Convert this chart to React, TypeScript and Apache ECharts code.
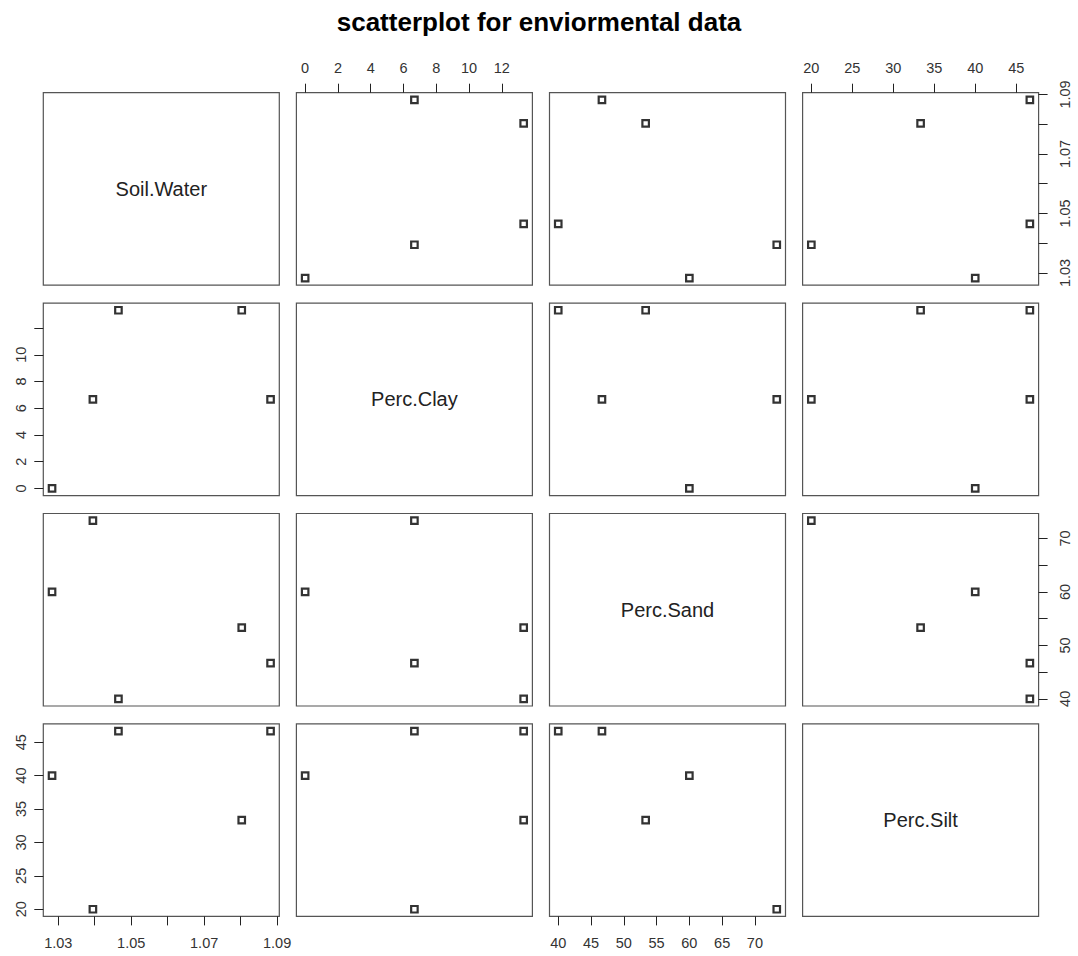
import React, { useEffect, useRef } from "react";
import * as echarts from "echarts";

// Variables of the pairs plot, in panel order
const variables = ["Soil.Water", "Perc.Clay", "Perc.Sand", "Perc.Silt"];

// Five soil samples
const soilWater = [1.0283, 1.0395, 1.0465, 1.0803, 1.0882];
const percClay = [0, 6.667, 13.333, 13.333, 6.667];
const percSand = [60, 73.333, 40, 53.333, 46.667];
const percSilt = [40, 20, 46.667, 33.333, 46.667];

// Tick marks and labelled ticks for every outer axis
const waterTicks = [1.03, 1.04, 1.05, 1.06, 1.07, 1.08, 1.09];
const waterLabels = [1.03, 1.05, 1.07, 1.09];
const clayTicks = [0, 2, 4, 6, 8, 10, 12];
const clayLabelsTop = [0, 2, 4, 6, 8, 10, 12];
const clayLabelsLeft = [0, 2, 4, 6, 8, 10];
const sandTicks = [40, 45, 50, 55, 60, 65, 70];
const sandLabelsBottom = [40, 45, 50, 55, 60, 65, 70];
const sandLabelsRight = [40, 50, 60, 70];
const siltTicks = [20, 25, 30, 35, 40, 45];
const siltLabels = [20, 25, 30, 35, 40, 45];

const columns = [soilWater, percClay, percSand, percSilt];
const ticksFor = [waterTicks, clayTicks, sandTicks, siltTicks];

const FONT = "'Liberation Sans', Arial, Helvetica, sans-serif";

// panel layout (px)
const PANEL_LEFT = 43.3;
const PANEL_TOP = 92.7;
const PANEL_W = 236;
const PANEL_H = 192.5;
const STEP_X = 253.1;
const STEP_Y = 210.4;

function paddedRange(values: number[]) {
  const lo = Math.min(...values);
  const hi = Math.max(...values);
  const pad = (hi - lo) * 0.04;
  return [lo - pad, hi + pad];
}

// which outer axis is drawn on which panel
type Side = "top" | "bottom" | "left" | "right";
const outerAxes: { row: number; col: number; side: Side; labels: number[] }[] = [
  { row: 0, col: 1, side: "top", labels: clayLabelsTop },
  { row: 0, col: 3, side: "top", labels: siltLabels },
  { row: 3, col: 0, side: "bottom", labels: waterLabels },
  { row: 3, col: 2, side: "bottom", labels: sandLabelsBottom },
  { row: 1, col: 0, side: "left", labels: clayLabelsLeft },
  { row: 3, col: 0, side: "left", labels: siltLabels },
  { row: 0, col: 3, side: "right", labels: waterLabels },
  { row: 2, col: 3, side: "right", labels: sandLabelsRight },
];

function findAxis(row: number, col: number, side: Side) {
  return outerAxes.find((a) => a.row === row && a.col === col && a.side === side);
}

function buildOption() {
  const grid: any[] = [];
  const xAxis: any[] = [];
  const yAxis: any[] = [];
  const series: any[] = [];
  const graphic: any[] = [];

  const tickStyle = { color: "#222", width: 1 };
  const labelStyle = { fontSize: 14.5, color: "#333", fontFamily: FONT };

  for (let row = 0; row < 4; row++) {
    for (let col = 0; col < 4; col++) {
      const k = grid.length;
      const left = PANEL_LEFT + col * STEP_X;
      const top = PANEL_TOP + row * STEP_Y;
      grid.push({
        left,
        top,
        width: PANEL_W,
        height: PANEL_H,
        show: true,
        backgroundColor: "transparent",
        borderColor: "#555",
        borderWidth: 1.2,
        containLabel: false,
      });

      if (row === col) {
        xAxis.push({ type: "value", gridIndex: k, min: 0, max: 1, show: false });
        yAxis.push({ type: "value", gridIndex: k, min: 0, max: 1, show: false });
        graphic.push({
          type: "text",
          x: left + PANEL_W / 2,
          y: top + PANEL_H / 2,
          style: {
            text: variables[row],
            fill: "#222",
            font: `20px ${FONT}`,
            align: "center",
            verticalAlign: "middle",
          },
        });
        continue;
      }

      const xs = columns[col];
      const ys = columns[row];
      const [xMin, xMax] = paddedRange(xs);
      const [yMin, yMax] = paddedRange(ys);

      const top_ = findAxis(row, col, "top");
      const bottom_ = findAxis(row, col, "bottom");
      const left_ = findAxis(row, col, "left");
      const right_ = findAxis(row, col, "right");
      const xSpec = top_ || bottom_;
      const ySpec = left_ || right_;

      xAxis.push({
        type: "value",
        gridIndex: k,
        min: xMin,
        max: xMax,
        show: !!xSpec,
        position: top_ ? "top" : "bottom",
        axisLine: { show: false },
        splitLine: { show: false },
        axisTick: {
          show: true,
          length: 9,
          customValues: ticksFor[col],
          lineStyle: tickStyle,
        },
        axisLabel: {
          ...labelStyle,
          margin: top_ ? 17 : 19,
          customValues: xSpec ? xSpec.labels : [],
          formatter: (v: number) => String(v),
        },
      });

      yAxis.push({
        type: "value",
        gridIndex: k,
        min: yMin,
        max: yMax,
        show: !!ySpec,
        position: right_ ? "right" : "left",
        axisLine: { show: false },
        splitLine: { show: false },
        axisTick: {
          show: true,
          length: 9,
          customValues: ticksFor[row],
          lineStyle: tickStyle,
        },
        axisLabel: {
          ...labelStyle,
          rotate: 90,
          margin: right_ ? 19 : 15,
          customValues: ySpec ? ySpec.labels : [],
          formatter: (v: number) => String(v),
        },
      });

      series.push({
        type: "scatter",
        xAxisIndex: k,
        yAxisIndex: k,
        symbol: "rect",
        symbolSize: 6.5,
        itemStyle: { color: "#fff", borderColor: "#000", borderWidth: 2.2 },
        data: xs.map((x, n) => [x, ys[n]]),
        silent: true,
      });
    }
  }

  return {
    animation: false,
    backgroundColor: "#fff",
    title: {
      text: "scatterplot for enviormental data",
      left: "center",
      top: 4,
      textStyle: { fontSize: 26, fontWeight: "bold", color: "#000", fontFamily: FONT },
    },
    grid,
    xAxis,
    yAxis,
    series,
    graphic,
  };
}

export default function App() {
  const ref = useRef<HTMLDivElement>(null);

  useEffect(() => {
    if (!ref.current) return;
    const chart = echarts.init(ref.current, undefined, { renderer: "svg" });
    chart.setOption(buildOption() as any);
    return () => chart.dispose();
  }, []);

  return (
    <div
      ref={ref}
      style={{ position: "fixed", left: 0, top: 0, width: 1078, height: 956, background: "#fff" }}
    />
  );
}
